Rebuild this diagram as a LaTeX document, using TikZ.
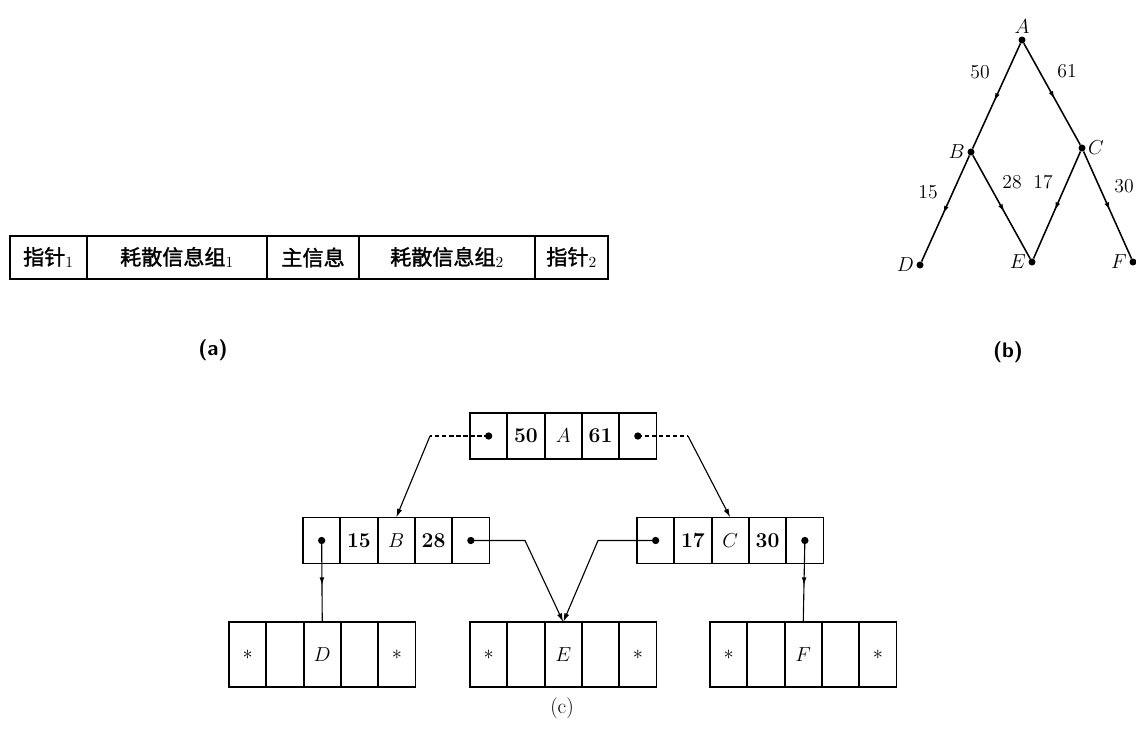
\documentclass[tikz,border=0pt]{standalone}
\usepackage{fontspec}
\newfontfamily\cjk[AutoFakeBold=1.5]{Noto Sans CJK SC}
\usetikzlibrary{arrows.meta,positioning,decorations.markings}

% one record of five cells: name, style, left x, centre y, contents
\newcommand{\mkrec}[5]{%
  \foreach \c [count=\i] in {#5}
    \node[#2] (#1\i) at ({#3+(\i-0.5)*37.3},#4) {\c};}

\begin{document}
\begin{tikzpicture}[
x=0.025cm,y=-0.025cm,
seg/.style={draw,line width=1.3pt,minimum height=1.075cm,inner sep=0pt,outer sep=0pt,font=\cjk\bfseries\fontsize{15}{18}\selectfont},
cell/.style={draw,line width=1.3pt,minimum width=0.93cm,minimum height=1.15cm,inner sep=0pt,outer sep=0pt,font=\fontsize{15}{17}\selectfont},
leaf/.style={cell,minimum height=1.62cm},
vtx/.style={circle,fill,inner sep=0pt,minimum size=5pt},
lbl/.style={font=\fontsize{14}{16}\selectfont,inner sep=1.5pt},
captxt/.style={font=\fontsize{15}{17}\selectfont},
t/.style={-{Latex[length=2.2mm,width=1.3mm]},line width=0.8pt},
ln/.style={line width=0.8pt},
gedge/.style={line width=1.1pt},
dsh/.style={line width=0.8pt,dash pattern=on 3pt off 2pt},
mid/.style={postaction={decorate},decoration={markings,mark=at position 0.55 with {\arrow{Latex[length=2mm,width=1.2mm]}}}}
]
\useasboundingbox (0,0) rectangle (1136,744);

% (a)
\node[seg,minimum width=1.925cm,anchor=west] (p1) at (10,257.5) {指针$_1$};
\node[seg,minimum width=4.5cm,right=0pt of p1] (d1) {耗散信息组$_1$};
\node[seg,minimum width=2.3cm,right=0pt of d1] (m) {主信息};
\node[seg,minimum width=4.4cm,right=0pt of m] (d2) {耗散信息组$_2$};
\node[seg,minimum width=1.825cm,right=0pt of d2] (p2) {指针$_2$};
\node[captxt,font=\sffamily\bfseries\fontsize{15}{17}\selectfont] (capa) at (213,350) {(a)};

% (b)
\node[vtx,label={[lbl]above:$A$}] (gA) at (1022,40) {};
\node[vtx,label={[lbl]left:$B$}] (gB) at (971,152) {};
\node[vtx,label={[lbl]right:$C$}] (gC) at (1082,148) {};
\node[vtx,label={[lbl]left:$D$}] (gD) at (920,265) {};
\node[vtx,label={[lbl]left:$E$}] (gE) at (1032,262) {};
\node[vtx,label={[lbl]left:$F$}] (gF) at (1133,262) {};
\draw[gedge,mid] (gA) -- (gB);
\draw[gedge,mid] (gA) -- (gC);
\draw[gedge,mid] (gB) -- (gD);
\draw[gedge,mid] (gB) -- (gE);
\draw[gedge,mid] (gC) -- (gE);
\draw[gedge,mid] (gC) -- (gF);
\node[lbl] (w50) at (980,72) {50};
\node[lbl] (w61) at (1067,71) {61};
\node[lbl] (w15) at (928,192) {15};
\node[lbl] (w28) at (1012,182) {28};
\node[lbl] (w17) at (1043,182) {17};
\node[lbl] (w30) at (1124,186) {30};
\node[captxt,font=\sffamily\bfseries\fontsize{15}{17}\selectfont] (capb) at (1008,352) {(b)};

% (c)
\mkrec{A}{cell}{470}{436}{{},\textbf{50},$A$,\textbf{61},{}}
\mkrec{B}{cell}{303}{540.5}{{},\textbf{15},$B$,\textbf{28},{}}
\mkrec{C}{cell}{637}{540.5}{{},\textbf{17},$C$,\textbf{30},{}}
\mkrec{D}{leaf}{229}{654.5}{$\ast$,{},$D$,{},$\ast$}
\mkrec{E}{leaf}{470}{654.5}{$\ast$,{},$E$,{},$\ast$}
\mkrec{F}{leaf}{710}{654.5}{$\ast$,{},$F$,{},$\ast$}
\foreach \p in {A1,A5,B1,B5,C1,C5} \fill (\p) circle[radius=2.6pt];

\coordinate (aL) at (430,436);
\coordinate (aR) at (688,436);
\coordinate (bR) at (525,540.5);
\coordinate (cL) at (598,540.5);
\draw[dsh] (A1.center) -- (aL);
\draw[t] (aL) -- (B3.north);
\draw[dsh] (A5.center) -- (aR);
\draw[t] (aR) -- (C3.north);
\draw[ln,mid] (B1.center) -- (D3.north);
\draw[ln,mid] (C5.center) -- (F3.north);
\draw[t] (B5.center) -- (bR) -- (E3.north);
\draw[t] (C1.center) -- (cL) -- (E3.north);
\node[captxt] (capc) at (562,708) {(c)};
\end{tikzpicture}
\end{document}
